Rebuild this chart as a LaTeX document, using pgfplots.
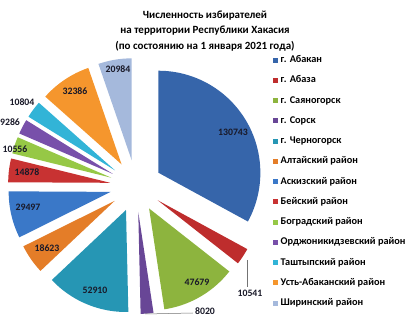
\documentclass[border=0pt]{standalone}
\usepackage{pgfplots}
\pgfplotsset{compat=1.18}
\usepackage{pgfplotstable}
\usepackage{fontspec}
\setmainfont{Carlito}

\definecolor{c0}{RGB}{54,101,170}
\definecolor{c1}{RGB}{190,45,45}
\definecolor{c2}{RGB}{141,180,62}
\definecolor{c3}{RGB}{104,70,150}
\definecolor{c4}{RGB}{38,150,180}
\definecolor{c5}{RGB}{228,125,40}
\definecolor{c6}{RGB}{58,120,200}
\definecolor{c7}{RGB}{200,50,50}
\definecolor{c8}{RGB}{150,200,70}
\definecolor{c9}{RGB}{120,80,170}
\definecolor{c10}{RGB}{50,180,215}
\definecolor{c11}{RGB}{245,150,45}
\definecolor{c12}{RGB}{165,185,220}
\definecolor{lbl}{RGB}{25,25,40}

\pgfplotstableread[col sep=comma]{
name,value,explode,lx,ly
г. Абакан,130743,26,233,132
г. Абаза,10541,26,250,293
г. Саяногорск,47679,26,197,282
г. Сорск,8020,26,205,311
г. Черногорск,52910,26,95,290
Алтайский район,18623,26,47,248
Аскизский район,29497,26,28,207
Бейский район,14878,26,27,172
Боградский район,10556,26,15,149
Орджоникидзевский район,9286,26,10,122
Таштыпский район,10804,26,22,102
Усть-Абаканский район,32386,26,75,91
Ширинский район,20984,26,118,69
}\piedata

\pgfplotstablegetrowsof{\piedata}
\pgfmathtruncatemacro\nrows{\pgfplotsretval-1}
\def\total{0}
\pgfplotsforeachungrouped \i in {0,...,\nrows}{%
  \pgfplotstablegetelem{\i}{value}\of\piedata
  \xdef\total{\fpeval{\total+\pgfplotsretval}}%
}

\begin{document}
\begin{tikzpicture}
\begin{axis}[
  x=1pt, y=1pt, xmin=0, xmax=411, ymin=0, ymax=320,
  hide axis, clip=false, anchor=origin, at={(0,0)},
  legend image code/.code={\fill[#1] (0pt,-2.5pt) rectangle (5pt,2.5pt);},
  legend cell align=left,
  legend style={at={(axis cs:273,265)}, anchor=north west, draw=none, fill=none,
    font=\bfseries\fontsize{10.3}{12}\selectfont, row sep=10.25pt, inner sep=0pt,
    nodes={inner sep=0pt, text height=7.5pt, text depth=2.5pt},
    /tikz/every odd column/.append style={column sep=2.5pt}},
]
\def\cum{0}
\pgfplotsforeachungrouped \i in {0,...,\nrows}{%
  \pgfplotstablegetelem{\i}{value}\of\piedata \edef\v{\pgfplotsretval}%
  \pgfplotstablegetelem{\i}{explode}\of\piedata \edef\e{\pgfplotsretval}%
  \pgfplotstablegetelem{\i}{name}\of\piedata \edef\nm{\pgfplotsretval}%
  \edef\aS{\fpeval{round(90-360*\cum/\total,4)}}%
  \edef\cum{\fpeval{\cum+\v}}%
  \edef\aE{\fpeval{round(90-360*\cum/\total,4)}}%
  \edef\aM{\fpeval{(\aS+\aE)/2}}%
  \edef\cx{\fpeval{round(136+\e*cosd(\aM),3)}}%
  \edef\cy{\fpeval{round(134+\e*sind(\aM),3)}}%
  \edef\temp{\noexpand\addplot[fill=c\i, draw=none, domain=\aE:\aS, samples=60]
     ({\cx+102*cos(x)},{\cy+102*sin(x)}) -- (axis cs:\cx,\cy) -- cycle;
     \noexpand\addlegendentry{\nm}}%
  \temp
}
\addplot[forget plot, black!55, line width=0.5pt] coordinates {(247,60) (247,33)};
\addplot[forget plot, black!55, line width=0.5pt] coordinates {(145,6) (193,7)};
\addplot[forget plot, only marks, mark=none, nodes near coords, point meta=explicit symbolic,
  nodes near coords style={anchor=center, text=lbl, font=\bfseries\fontsize{9.8}{11}\selectfont}]
  table[col sep=comma, x=lx, y expr=320-\thisrow{ly}, meta=value] \piedata;
\node[align=center, font=\bfseries\fontsize{11}{15.5}\selectfont, text=black]
  at (axis cs:205,289) {Численность избирателей\\на территории Республики Хакасия\\(по состоянию на 1 января 2021 года)};
\end{axis}
\pgfresetboundingbox
\path (0,0) rectangle (411pt,320pt);
\end{tikzpicture}
\end{document}
